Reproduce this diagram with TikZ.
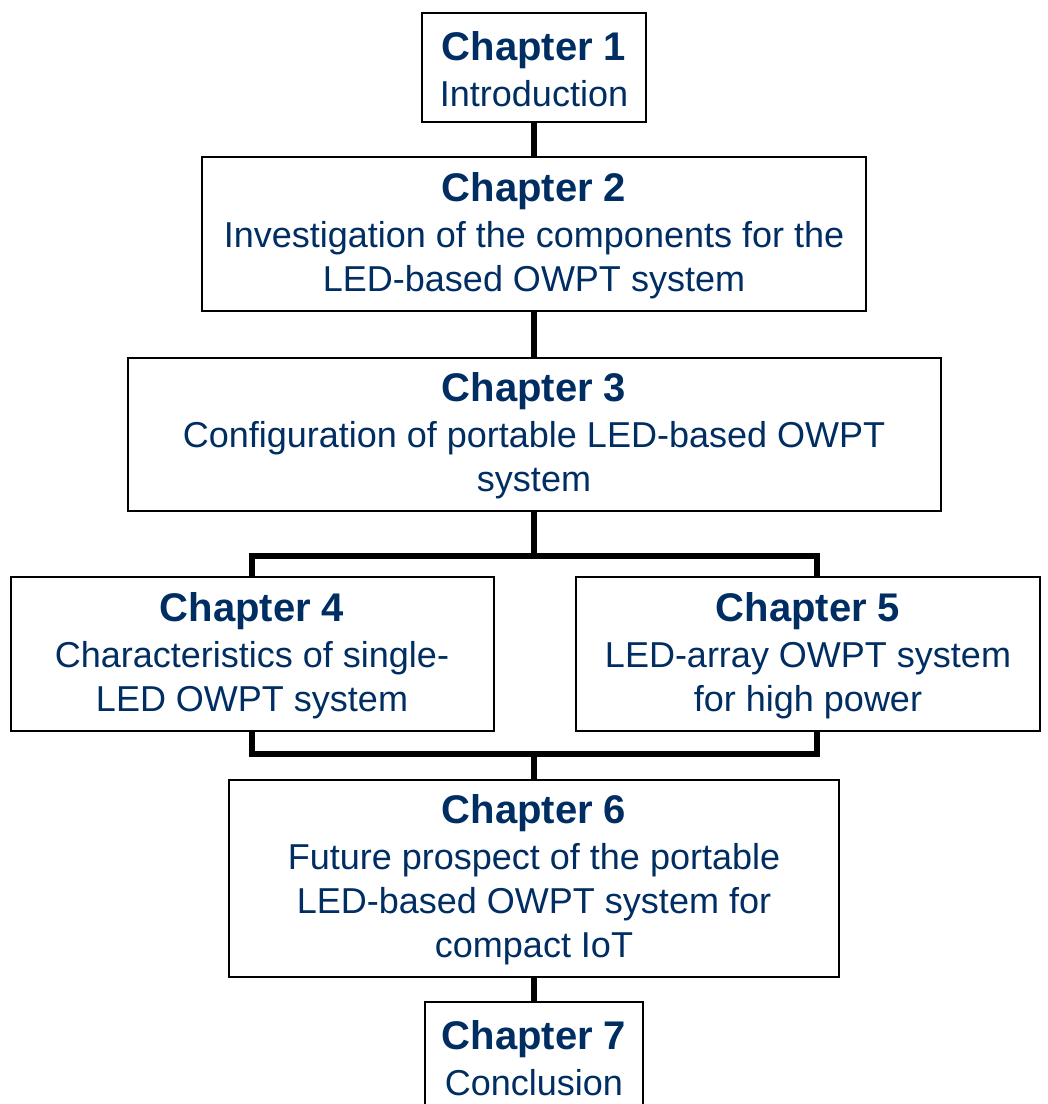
\documentclass[tikz,border=0pt]{standalone}
\usepackage{fontspec}
\setmainfont{Liberation Sans}
\usepackage{tikz}
\usetikzlibrary{positioning}
\definecolor{chapblue}{RGB}{0,45,98}
\newcommand{\chaphead}[1]{{\fontsize{20}{24}\selectfont\bfseries\rule{0pt}{16pt}Chapter #1}\\[1pt]}
\tikzset{
	chapter/.style={
		draw, rectangle, line width=1pt,
		inner sep=0pt, align=center, text=chapblue,
		font=\fontsize{18}{22}\selectfont
	},
	link/.style={line width=2.75pt, black}
}

\begin{document}
\begin{tikzpicture}
				\useasboundingbox (0,0) rectangle (524pt,-552pt);
				\node[chapter, minimum width=112pt, minimum height=54.5pt] (ch1) at (267pt,-33.75pt) {\chaphead{1}Introduction};
				\node[chapter, minimum width=332pt, minimum height=77pt] (ch2) [below=16.5pt of ch1] {\chaphead{2}Investigation of the components for the\\LED-based OWPT system};
				\node[chapter, minimum width=406.5pt, minimum height=76.5pt] (ch3) [below=22.5pt of ch2] {\chaphead{3}Configuration of portable LED-based OWPT\\system};
				\node[chapter, minimum width=241.5pt, minimum height=77pt] (ch4) [below=32pt of ch3.south, xshift=-141pt] {\chaphead{4}Characteristics of single-\\LED OWPT system};
				\node[chapter, minimum width=232pt, minimum height=77pt] (ch5) [below=32pt of ch3.south, xshift=137pt] {\chaphead{5}LED-array OWPT system\\for high power};
				\node[chapter, minimum width=305pt, minimum height=98.5pt] (ch6) [below=133.5pt of ch3] {\chaphead{6}Future prospect of the portable\\LED-based OWPT system for\\compact IoT};
				\node[chapter, minimum width=109pt, minimum height=54.5pt] (ch7) [below=11.5pt of ch6] {\chaphead{7}Conclusion};
				\draw[link] (ch1) -- (ch2);
				\draw[link] (ch2) -- (ch3);
				\draw[link] (ch3.south) -- ++(0,-22pt) coordinate (busA);
				\draw[link] (ch4.north) |- (busA) -| ([xshift=4.5pt]ch5.north);
				\draw[link] (ch4.south) -- ++(0,-11pt) coordinate (busB) -| ([xshift=4.5pt]ch5.south);
				\draw[link] (ch6) -- (ch6 |- busB);
				\draw[link] (ch6) -- (ch7);
			\end{tikzpicture}
\end{document}
